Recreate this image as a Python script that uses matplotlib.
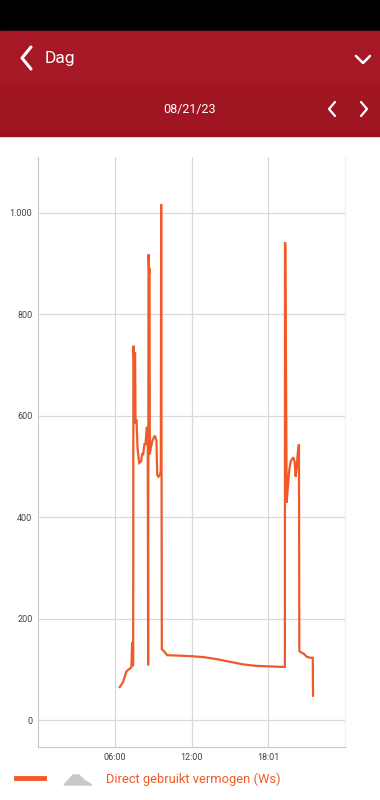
import matplotlib
matplotlib.use("Agg")
import matplotlib.pyplot as plt
from matplotlib.patches import Rectangle, Polygon
from matplotlib.ticker import FuncFormatter

# ── data (hours of day, W) ──
hours = [6.39, 6.65, 6.91, 7.10, 7.30, 7.36, 7.40, 7.44, 7.46, 7.52, 7.59, 7.61, 7.62,
         7.70, 7.78, 7.91, 8.06, 8.14, 8.22, 8.32, 8.40, 8.51, 8.58, 8.61, 8.64, 8.70,
         8.72, 8.74, 8.82, 8.95, 9.13, 9.26, 9.32, 9.42, 9.52, 9.60, 9.63, 9.68, 9.84,
         10.10, 11.09, 12.00, 13.0, 14.0, 15.0, 16.0, 17.0, 18.0, 19.0, 19.30, 19.31,
         19.34, 19.44, 19.49, 19.57, 19.64, 19.75, 19.96, 20.06, 20.14, 20.22, 20.30,
         20.40, 20.43, 20.61, 20.82, 21.00, 21.26, 21.48, 21.50]
watts = [65, 75, 96, 100, 104, 153, 107, 108, 738, 700, 725, 643, 585,
         592, 537, 507, 510, 524, 524, 544, 544, 578, 560, 108, 918, 880,
         891, 524, 537, 551, 561, 551, 483, 480, 483, 490, 1017, 140, 136,
         128, 127, 126, 124, 120, 115, 110, 107, 106, 105, 105, 942,
         935, 429, 446, 470, 493, 510, 518, 510, 480, 497, 524,
         544, 136, 133, 130, 125, 123, 123, 48]

x_ticks = [6.0, 12.0, 18.0167]
x_labels = ["06:00", "12:00", "18:01"]
y_ticks = [0, 200, 400, 600, 800, 1000]

series_name = "Direct gebruikt vermogen (Ws)"
date_label = "08/21/23"
title = "Dag"

ORANGE = "#f05a28"

W, H = 380, 800
fig = plt.figure(figsize=(W / 100, H / 100), dpi=100)
fig.patch.set_facecolor("white")

# background overlay in pixel coords
bg = fig.add_axes([0, 0, 1, 1])
bg.set_xlim(0, W)
bg.set_ylim(H, 0)
bg.axis("off")
bg.add_patch(Rectangle((0, 0), W, 31, color="black"))
bg.add_patch(Rectangle((0, 31), W, 53, color="#a71826"))
bg.add_patch(Rectangle((0, 84), W, 51, color="#a01522"))
bg.add_patch(Rectangle((0, 133), W, 3, color="#9a1220"))

bg.plot([31, 22, 31], [47, 58, 69], color="white", lw=2.2, solid_capstyle="round")
bg.text(45, 59, title, color="white", fontsize=12.5, va="center", ha="left",
        family="Roboto")
bg.plot([356, 363, 370], [56, 63, 56], color="white", lw=1.8, solid_capstyle="round")
bg.text(190, 109, date_label, color="white", fontsize=9, va="center", ha="center",
        family="Roboto")
bg.plot([335, 329, 335], [102, 109, 116], color="white", lw=1.6, solid_capstyle="round")
bg.plot([361, 367, 361], [102, 109, 116], color="white", lw=1.6, solid_capstyle="round")

# legend
bg.plot([16, 44], [778, 778], color=ORANGE, lw=3.5)
bg.add_patch(Polygon([(64, 785), (73, 775), (79, 775), (84, 780), (92, 785)],
                     closed=True, color="#c8c8c8"))
bg.text(106, 779, series_name, color=ORANGE, fontsize=9.3, va="center", ha="left",
        family="Roboto")

# chart
left, right, top, bottom = 38, 345, 157, 747
ax = fig.add_axes([left / W, 1 - bottom / H, (right - left) / W, (bottom - top) / H])
ax.set_zorder(2)
ax.patch.set_alpha(0)
ax.plot(hours, watts, color=ORANGE, lw=1.6, solid_joinstyle="miter")
ax.set_xlim(0, 24)
ax.set_ylim(-53, 1110)
ax.set_xticks(x_ticks)
ax.set_xticklabels(x_labels)
ax.set_yticks(y_ticks)
ax.yaxis.set_major_formatter(FuncFormatter(lambda v, p: f"{int(v):,}".replace(",", ".")))
ax.grid(color="#d9d9d9", lw=0.9)
ax.set_axisbelow(True)
ax.spines["top"].set_visible(False)
ax.spines["right"].set_color("#f0f0f0")
for s in ["left", "bottom"]:
    ax.spines[s].set_color("#c8c8c8")
ax.tick_params(length=0, labelsize=6.5, labelcolor="#444444", pad=4)
for lab in ax.get_xticklabels() + ax.get_yticklabels():
    lab.set_family("Roboto")

fig.savefig("out.png", dpi=100)
